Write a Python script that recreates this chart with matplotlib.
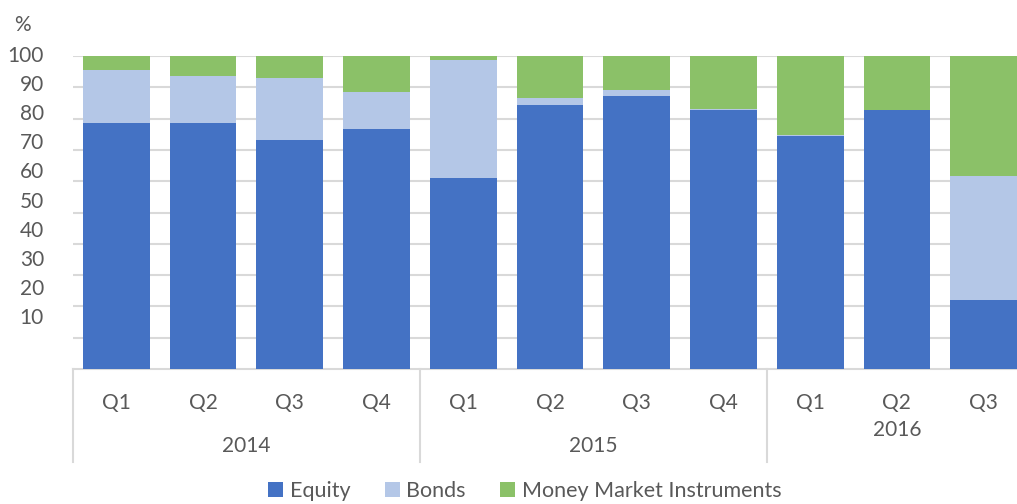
import numpy as np
import matplotlib.pyplot as plt
import matplotlib.transforms as mtransforms

# data (percent of total)
quarters = ['Q1', 'Q2', 'Q3', 'Q4', 'Q1', 'Q2', 'Q3', 'Q4', 'Q1', 'Q2', 'Q3']
years = ['2014', '2015', '2016']
year_counts = [4, 4, 3]
equity = [78.6, 78.6, 73.2, 76.7, 61.0, 84.3, 87.2, 82.9, 74.3, 82.7, 22.0]
bonds = [16.9, 14.9, 19.8, 11.7, 37.7, 2.4, 1.9, 0.3, 0.5, 0.1, 39.7]
money_market = [4.5, 6.5, 7.0, 11.6, 1.3, 13.3, 10.9, 16.8, 25.2, 17.2, 38.3]

C_EQ = '#4472C4'
C_BO = '#B4C7E7'
C_MM = '#8BC168'
TXT = '#595959'
GRID = '#D9D9D9'

plt.rcParams['font.family'] = ['Lato', 'DejaVu Sans']


def plot_stacked(equity, bonds, money_market):
    fig = plt.figure(figsize=(10.17, 5.04), dpi=100)
    ax = fig.add_axes([73 / 1017, 135 / 504, 954 / 1017, 313 / 504])

    x = np.arange(len(quarters))
    eq = np.array(equity)
    bo = np.array(bonds)
    mm = np.array(money_market)
    w = 0.77
    ax.bar(x, eq, w, color=C_EQ, label='Equity', zorder=3)
    ax.bar(x, bo, w, bottom=eq, color=C_BO, label='Bonds', zorder=3)
    ax.bar(x, mm, w, bottom=eq + bo, color=C_MM, label='Money Market Instruments', zorder=3)

    ax.set_xlim(-0.5, len(quarters) - 0.5)
    ax.set_ylim(0, 100)
    ax.set_yticks(np.arange(10, 101, 10))
    ax.yaxis.grid(True, color=GRID, linewidth=1.5, zorder=0)
    ax.tick_params(axis='both', length=0, labelleft=False, labelbottom=False)
    for s in ['top', 'right', 'left']:
        ax.spines[s].set_visible(False)
    ax.spines['bottom'].set_color(GRID)
    ax.spines['bottom'].set_linewidth(1.5)

    # y labels sit a bit compressed compared with the gridlines in the original
    ytr = mtransforms.blended_transform_factory(fig.transFigure, ax.transData)
    for v in range(10, 101, 10):
        ax.text(44 / 1017, 100 - (100 - v) * 0.93, str(v), transform=ytr,
                ha='right', va='center', fontsize=15, color=TXT)
    fig.text(22 / 1017, 1 - 25 / 504, '%', ha='center', va='center',
             fontsize=15, color=TXT)

    # two level category axis
    xtr = mtransforms.blended_transform_factory(ax.transData, ax.transAxes)
    for i, q in enumerate(quarters):
        ax.text(i, -0.109, q, transform=xtr, ha='center', va='center',
                fontsize=15, color=TXT)
    start = 0
    for yr, n in zip(years, year_counts):
        ax.plot([start - 0.5, start - 0.5], [0, -0.297], transform=xtr,
                color=GRID, linewidth=1.5, clip_on=False)
        mid = start + (n - 1) / 2
        ypos = -0.246 if n == 4 else -0.195
        ax.text(mid, ypos, yr, transform=xtr, ha='center', va='center',
                fontsize=15, color=TXT)
        start += n

    fig.legend(loc='center', bbox_to_anchor=(0.516, 0.026), ncol=3, frameon=False,
               fontsize=15.5, handlelength=0.7, handleheight=0.7,
               handletextpad=0.3, columnspacing=1.6, labelcolor=TXT,
               borderpad=0.1)

    fig.savefig('out.png', dpi=100)


plot_stacked(equity, bonds, money_market)
